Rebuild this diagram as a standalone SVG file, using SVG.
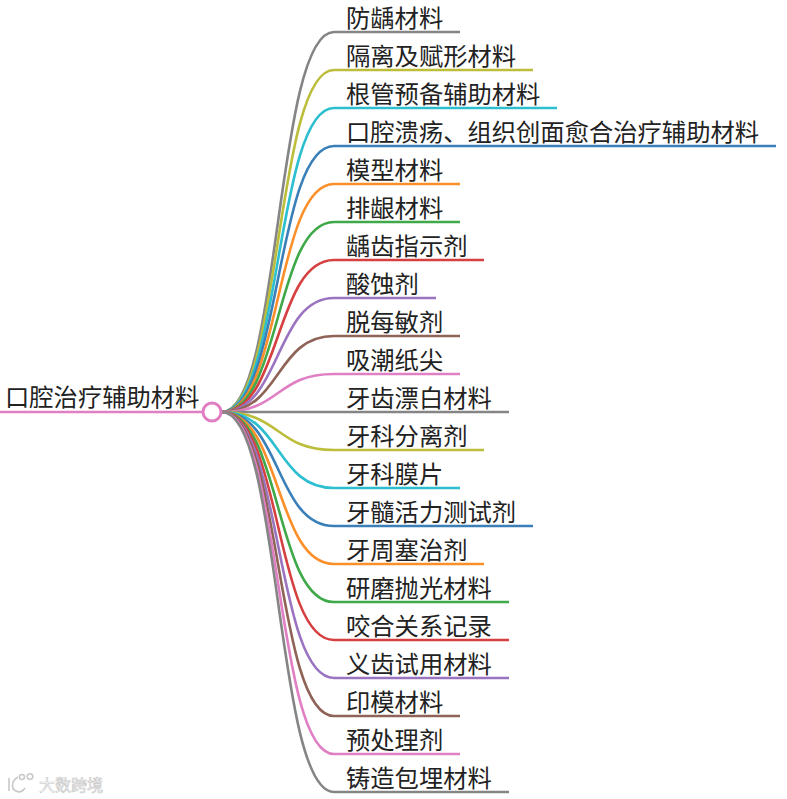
<svg xmlns="http://www.w3.org/2000/svg" width="787" height="799" viewBox="0 0 787 799">
<style>
text{font-family:"Noto Sans CJK SC","Noto Sans",sans-serif;font-size:24.3px;fill:#222}
.l{fill:none;stroke-width:2.6}
.a{stroke:#e07fc4}.b{stroke:#858585}.c{stroke:#bcbd3a}.d{stroke:#2dbfd0}.e{stroke:#3a7fb8}.f{stroke:#fb8f2a}.g{stroke:#3fa848}.h{stroke:#d64040}.i{stroke:#9a74c0}.j{stroke:#8f6357}
.wm{font-size:16px;fill:#fff;stroke:#c4c4c4;stroke-width:.6}
.lg{fill:none;stroke:#c8c8c8;stroke-width:1.6}
</style>
<rect width="787" height="799" fill="#fff"/>
<g id="connectors">
<path class="l a" d="M0 412H212"/>
<path class="l b" d="M222 412C281 412 275 32 334 32H460"/>
<path class="l c" d="M222 412C281 412 275 70 334 70H533"/>
<path class="l d" d="M222 412C281 412 275 108 334 108H557"/>
<path class="l e" d="M222 412C281 412 275 146 334 146H776"/>
<path class="l f" d="M222 412C281 412 275 184 334 184H460"/>
<path class="l g" d="M222 412C281 412 275 222 334 222H460"/>
<path class="l h" d="M222 412C281 412 275 260 334 260H484"/>
<path class="l i" d="M222 412C281 412 275 298 334 298H436"/>
<path class="l j" d="M222 412C281 412 275 336 334 336H460"/>
<path class="l a" d="M222 412C281 412 275 374 334 374H460"/>
<path class="l b" d="M222 412H509"/>
<path class="l c" d="M222 412C281 412 275 450 334 450H484"/>
<path class="l d" d="M222 412C281 412 275 488 334 488H460"/>
<path class="l e" d="M222 412C281 412 275 526 334 526H533"/>
<path class="l f" d="M222 412C281 412 275 564 334 564H484"/>
<path class="l g" d="M222 412C281 412 275 602 334 602H509"/>
<path class="l h" d="M222 412C281 412 275 640 334 640H509"/>
<path class="l i" d="M222 412C281 412 275 678 334 678H509"/>
<path class="l j" d="M222 412C281 412 275 716 334 716H460"/>
<path class="l a" d="M222 412C281 412 275 754 334 754H460"/>
<path class="l b" d="M222 412C281 412 275 792 334 792H509"/>
</g>
<g id="root"><text x="5" y="405.500">口腔治疗辅助材料</text><circle cx="212" cy="412" r="9" fill="#fff" stroke="#e07fc4" stroke-width="3"/></g>
<g id="n1"><text x="346" y="26.500">防龋材料</text></g>
<g id="n2"><text x="346" y="64.500">隔离及赋形材料</text></g>
<g id="n3"><text x="346" y="102.500">根管预备辅助材料</text></g>
<g id="n4"><text x="346" y="140.500">口腔溃疡、组织创面愈合治疗辅助材料</text></g>
<g id="n5"><text x="346" y="178.500">模型材料</text></g>
<g id="n6"><text x="346" y="216.500">排龈材料</text></g>
<g id="n7"><text x="346" y="254.500">龋齿指示剂</text></g>
<g id="n8"><text x="346" y="292.500">酸蚀剂</text></g>
<g id="n9"><text x="346" y="330.500">脱每敏剂</text></g>
<g id="n10"><text x="346" y="368.500">吸潮纸尖</text></g>
<g id="n11"><text x="346" y="406.500">牙齿漂白材料</text></g>
<g id="n12"><text x="346" y="444.500">牙科分离剂</text></g>
<g id="n13"><text x="346" y="482.500">牙科膜片</text></g>
<g id="n14"><text x="346" y="520.500">牙髓活力测试剂</text></g>
<g id="n15"><text x="346" y="558.500">牙周塞治剂</text></g>
<g id="n16"><text x="346" y="596.500">研磨抛光材料</text></g>
<g id="n17"><text x="346" y="634.500">咬合关系记录</text></g>
<g id="n18"><text x="346" y="672.500">义齿试用材料</text></g>
<g id="n19"><text x="346" y="710.500">印模材料</text></g>
<g id="n20"><text x="346" y="748.500">预处理剂</text></g>
<g id="n21"><text x="346" y="786.500">铸造包埋材料</text></g>
<g id="watermark">
<path class="lg" d="M9 778V791M18 777C11 781 11 789 16 791C20 793 23 791 25 788"/>
<circle class="lg" cx="22" cy="777" r="2.500"/><circle class="lg" cx="30" cy="776.500" r="2.800"/>
<text class="wm" x="39" y="791">大数跨境</text>
</g>
</svg>
